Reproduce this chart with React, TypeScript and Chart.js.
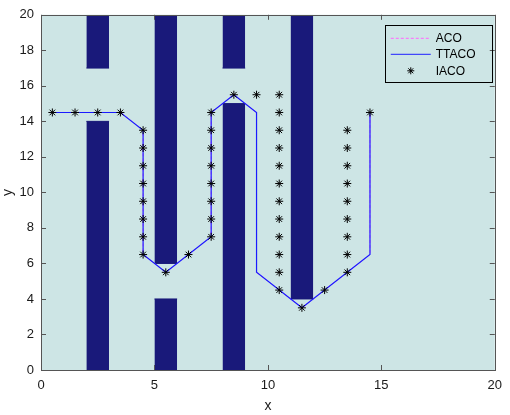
import React, { useEffect, useRef } from "react";
import { Chart, registerables } from "chart.js";

Chart.register(...registerables);

// Axis ticks
const xTicks = [0, 5, 10, 15, 20];
const yTicks = [0, 2, 4, 6, 8, 10, 12, 14, 16, 18, 20];

// Obstacles (rectangles)
const obstacleLeft = [2, 2, 5, 5, 8, 8, 11];
const obstacleRight = [3, 3, 6, 6, 9, 9, 12];
const obstacleBottom = [0, 17, 0, 6, 0, 17, 4];
const obstacleTop = [14, 20, 4, 20, 15, 20, 20];

// ACO path (hidden beneath TTACO)
const acoX = [0.5, 3.5, 4.5, 4.5, 5.5, 7.5, 7.5, 8.5, 9.5, 9.5, 11.5, 14.5, 14.5];
const acoY = [14.5, 14.5, 13.5, 6.5, 5.5, 7.5, 14.5, 15.5, 14.5, 5.5, 3.5, 6.5, 14.5];

// TTACO path
const ttacoX = [0.5, 3.5, 4.5, 4.5, 5.5, 7.5, 7.5, 8.5, 9.5, 9.5, 11.5, 14.5, 14.5];
const ttacoY = [14.5, 14.5, 13.5, 6.5, 5.5, 7.5, 14.5, 15.5, 14.5, 5.5, 3.5, 6.5, 14.5];

// IACO path points
const iacoX = [
  0.5, 1.5, 2.5, 3.5,
  4.5, 4.5, 4.5, 4.5, 4.5, 4.5, 4.5, 4.5,
  5.5, 6.5,
  7.5, 7.5, 7.5, 7.5, 7.5, 7.5, 7.5, 7.5,
  8.5, 9.5,
  10.5, 10.5, 10.5, 10.5, 10.5, 10.5, 10.5, 10.5, 10.5, 10.5, 10.5, 10.5,
  11.5, 12.5,
  13.5, 13.5, 13.5, 13.5, 13.5, 13.5, 13.5, 13.5, 13.5,
  14.5,
];
const iacoY = [
  14.5, 14.5, 14.5, 14.5,
  13.5, 12.5, 11.5, 10.5, 9.5, 8.5, 7.5, 6.5,
  5.5, 6.5,
  7.5, 8.5, 9.5, 10.5, 11.5, 12.5, 13.5, 14.5,
  15.5, 15.5,
  15.5, 14.5, 13.5, 12.5, 11.5, 10.5, 9.5, 8.5, 7.5, 6.5, 5.5, 4.5,
  3.5, 4.5,
  5.5, 6.5, 7.5, 8.5, 9.5, 10.5, 11.5, 12.5, 13.5,
  14.5,
];

const legendLabels = ["ACO", "TTACO", "IACO"];

const BG = "#cde5e5";
const NAVY = "#19197a";
const AXIS = "#555555";
const FONT = "'Liberation Sans', Arial, sans-serif";

const pts = (xs: number[], ys: number[]) => xs.map((x, i) => ({ x, y: ys[i] }));

export default function App() {
  const ref = useRef<HTMLCanvasElement | null>(null);

  useEffect(() => {
    document.body.style.margin = "0";
    const canvas = ref.current;
    if (!canvas) return;

    const obstacleSets = obstacleLeft.map((l, i) => {
      const r = obstacleRight[i];
      const b = obstacleBottom[i];
      const t = obstacleTop[i];
      const atTop = t >= 20;
      return {
        label: "obstacle" + i,
        data: atTop
          ? [
              { x: l, y: b },
              { x: r, y: b },
            ]
          : [
              { x: l, y: t },
              { x: r, y: t },
            ],
        showLine: true,
        fill: atTop ? "end" : "start",
        backgroundColor: NAVY,
        borderColor: NAVY,
        borderWidth: 1,
        pointRadius: 0,
        tension: 0,
        order: 10,
      };
    });

    const bgPlugin = {
      id: "bg",
      beforeDraw(chart: any) {
        const { ctx, chartArea: a } = chart;
        ctx.save();
        ctx.fillStyle = "#ffffff";
        ctx.fillRect(0, 0, chart.width, chart.height);
        ctx.fillStyle = BG;
        ctx.fillRect(a.left, a.top, a.right - a.left, a.bottom - a.top);
        ctx.restore();
      },
    };

    const boxPlugin = {
      id: "box",
      afterDatasetsDraw(chart: any) {
        const { ctx, chartArea: a, scales } = chart;
        const xs = scales.x;
        const ys = scales.y;
        ctx.save();
        ctx.strokeStyle = AXIS;
        ctx.lineWidth = 1;
        ctx.beginPath();
        const tl = 5;
        xTicks.forEach((v) => {
          const px = Math.round(xs.getPixelForValue(v)) + 0.5;
          ctx.moveTo(px, a.bottom);
          ctx.lineTo(px, a.bottom - tl);
          ctx.moveTo(px, a.top);
          ctx.lineTo(px, a.top + tl);
        });
        yTicks.forEach((v) => {
          const py = Math.round(ys.getPixelForValue(v)) + 0.5;
          ctx.moveTo(a.left, py);
          ctx.lineTo(a.left + tl, py);
          ctx.moveTo(a.right, py);
          ctx.lineTo(a.right - tl, py);
        });
        ctx.stroke();
        ctx.strokeRect(Math.round(a.left) + 0.5, Math.round(a.top) + 0.5, Math.round(a.right - a.left), Math.round(a.bottom - a.top));

        // Legend
        const bx = a.right - 110;
        const by = a.top + 10;
        const bw = 107;
        const bh = 57;
        ctx.strokeStyle = "#000000";
        ctx.strokeRect(Math.round(bx) + 0.5, Math.round(by) + 0.5, bw, bh);
        const rows = [by + 13.5, by + 29.5, by + 46];
        const lx0 = bx + 6;
        const lx1 = bx + 46;
        // ACO
        ctx.strokeStyle = "#ff66ff";
        ctx.setLineDash([3, 2]);
        ctx.beginPath();
        ctx.moveTo(lx0, rows[0]);
        ctx.lineTo(lx1, rows[0]);
        ctx.stroke();
        ctx.setLineDash([]);
        // TTACO
        ctx.strokeStyle = "#2020ff";
        ctx.beginPath();
        ctx.moveTo(lx0, rows[1]);
        ctx.lineTo(lx1, rows[1]);
        ctx.stroke();
        // IACO star
        const cx = (lx0 + lx1) / 2;
        const cy = rows[2];
        const r = 3.5;
        ctx.strokeStyle = "#000000";
        ctx.beginPath();
        ctx.moveTo(cx - r, cy);
        ctx.lineTo(cx + r, cy);
        ctx.moveTo(cx, cy - r);
        ctx.lineTo(cx, cy + r);
        const d = r * 0.707;
        ctx.moveTo(cx - d, cy - d);
        ctx.lineTo(cx + d, cy + d);
        ctx.moveTo(cx - d, cy + d);
        ctx.lineTo(cx + d, cy - d);
        ctx.stroke();
        ctx.fillStyle = "#000000";
        ctx.font = "12px " + FONT;
        ctx.textBaseline = "middle";
        ctx.textAlign = "left";
        legendLabels.forEach((t, i) => {
          ctx.fillText(t, bx + 51, rows[i] + 0.5);
        });
        ctx.restore();
      },
    };

    const chart = new Chart(canvas, {
      type: "scatter",
      data: {
        datasets: [
          {
            label: legendLabels[2],
            data: pts(iacoX, iacoY),
            showLine: false,
            pointStyle: "star",
            pointRadius: 4,
            borderColor: "#000000",
            backgroundColor: "#000000",
            borderWidth: 1,
            order: 1,
          },
          {
            label: legendLabels[1],
            data: pts(ttacoX, ttacoY),
            showLine: true,
            borderColor: "#1a1aff",
            borderWidth: 1.2,
            pointRadius: 0,
            tension: 0,
            fill: false,
            order: 2,
          },
          {
            label: legendLabels[0],
            data: pts(acoX, acoY),
            showLine: true,
            borderColor: "#ff66ff",
            borderDash: [3, 2],
            borderWidth: 1,
            pointRadius: 0,
            tension: 0,
            fill: false,
            order: 3,
          },
          ...obstacleSets,
        ] as any,
      },
      options: {
        responsive: false,
        animation: false,
        events: [],
        layout: { padding: { top: 9, right: 11, bottom: 0, left: 0 } },
        plugins: {
          legend: { display: false },
          tooltip: { enabled: false },
          filler: { propagate: false },
        },
        scales: {
          x: {
            type: "linear",
            min: 0,
            max: 20,
            afterBuildTicks: (s: any) => {
              s.ticks = xTicks.map((v) => ({ value: v }));
            },
            afterFit: (s: any) => {
              s.height = 45;
            },
            grid: { display: false, drawTicks: false },
            border: { display: false },
            ticks: {
              padding: 8,
              color: "#1a1a1a",
              font: { family: FONT, size: 13 },
              maxRotation: 0,
            },
            title: {
              display: true,
              text: "x",
              color: "#1a1a1a",
              font: { family: FONT, size: 14 },
              padding: { top: 0, bottom: 0 },
            },
          },
          y: {
            type: "linear",
            min: 0,
            max: 20,
            afterBuildTicks: (s: any) => {
              s.ticks = yTicks.map((v) => ({ value: v }));
            },
            afterFit: (s: any) => {
              s.width = 41;
            },
            grid: { display: false, drawTicks: false },
            border: { display: false },
            ticks: {
              padding: 7,
              color: "#1a1a1a",
              font: { family: FONT, size: 13 },
            },
            title: {
              display: true,
              text: "y",
              color: "#1a1a1a",
              font: { family: FONT, size: 14 },
              padding: { top: 0, bottom: 0 },
            },
          },
        },
      } as any,
      plugins: [bgPlugin, boxPlugin],
    });

    return () => chart.destroy();
  }, []);

  return (
    <div style={{ width: 510, height: 415 }}>
      <canvas ref={ref} width={510} height={415} style={{ display: "block" }} />
    </div>
  );
}
